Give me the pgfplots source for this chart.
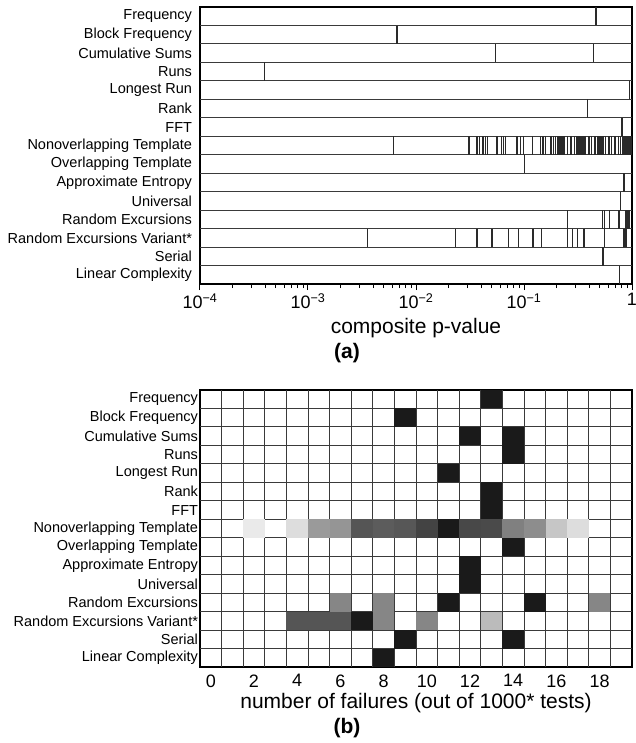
\documentclass[border=0pt]{standalone}
\usepackage{pgfplots}
\pgfplotsset{compat=1.18}
\usepackage{fontspec}
\setmainfont{Liberation Sans}
\pgfdeclareplotmark{cell}{\pgfpathrectangle{\pgfqpoint{-10.8pt}{-9.2333pt}}{\pgfqpoint{21.6pt}{18.4667pt}}\pgfusepathqfill}
\definecolor{gridc}{HTML}{3A3A3A}
\definecolor{linec}{HTML}{2A2A2A}
\begin{document}
\begin{tikzpicture}
\path[use as bounding box] (0pt,0pt) rectangle (635pt,-743pt);
\pgfplotsset{
  rowlabels/.style={
    ytick={1,...,15},
    yticklabels={Frequency,Block Frequency,Cumulative Sums,Runs,Longest Run,Rank,FFT,Nonoverlapping Template,Overlapping Template,Approximate Entropy,Universal,Random Excursions,Random Excursions Variant*,Serial,Linear Complexity},
    yticklabel style={font=\fontsize{14.5}{14.5}\selectfont, anchor=east, xshift=1.5pt},
    ytick style={draw=none},
    ymin=0.5, ymax=15.5, y dir=reverse,
    extra y ticks={1.5,2.5,...,14.5},
    extra y tick labels={},
    extra y tick style={grid=major, tick style={draw=none}},
    grid style={draw=gridc, line width=1pt},
    axis line style={line width=1.4pt, black},
  },
  pv/.style={only marks, mark=|, mark size=9.2pt, mark options={line width=1.1pt, draw=linec}},
}
% ---------------- panel (a)
\begin{axis}[
  at={(200pt,-7pt)}, anchor=north west,
  scale only axis, width=432pt, height=277pt,
  rowlabels,
  xmode=log, xmin=1e-4, xmax=1,
  xtick={1e-4,1e-3,1e-2,1e-1,1},
  xticklabels={10\textsuperscript{−4},10\textsuperscript{−3},10\textsuperscript{−2},10\textsuperscript{−1},1},
  xticklabel style={font=\fontsize{18}{18}\selectfont},
  xtick pos=bottom, tick align=outside,
  major tick length=6pt, minor tick length=4pt,
  xtick style={line width=1pt, black},
  clip=false,
]
\addplot[pv] coordinates {(0.4642,1)};
\addplot[pv] coordinates {(0.00667,2)};
\addplot[pv] coordinates {(0.0547,3) (0.4418,3)};
\addplot[pv] coordinates {(0.000397,4)};
\addplot[pv] coordinates {(0.955,5)};
\addplot[pv] coordinates {(0.3889,6)};
\addplot[pv] coordinates {(0.808,7)};
\addplot[pv] coordinates {
(0.00622,8) (0.03095,8) (0.03670,8) (0.03889,8) (0.04174,8) (0.04420,8) (0.04612,8)
(0.05623,8) (0.06216,8) (0.06486,8) (0.06770,8) (0.08614,8) (0.09242,8) (0.09936,8)
(0.1194,8) (0.1416,8) (0.1499,8) (0.1588,8) (0.1778,8) (0.1884,8) (0.1966,8)
(0.2064,8) (0.2110,8) (0.2154,8) (0.2200,8) (0.2248,8) (0.2296,8) (0.2346,8)
(0.2539,8) (0.2724,8) (0.2922,8) (0.3095,8) (0.3231,8) (0.3300,8) (0.3372,8) (0.3445,8)
(0.3518,8) (0.3593,8) (0.3670,8) (0.3997,8) (0.4234,8) (0.4544,8) (0.4813,8) (0.4917,8)
(0.5023,8) (0.5131,8) (0.5242,8) (0.5355,8) (0.5470,8) (0.5709,8) (0.6124,8) (0.6486,8)
(0.6961,8) (0.7464,8) (0.7793,8) (0.8131,8) (0.8345,8) (0.8522,8) (0.8660,8) (0.8799,8)
(0.8940,8) (0.9084,8) (0.9231,8) (0.9380,8) (0.9531,8) (0.9685,8) (0.9794,8) (0.9894,8)};
\addplot[pv] coordinates {(0.1006,9)};
\addplot[pv] coordinates {(0.843,10)};
\addplot[pv] coordinates {(0.7793,11)};
\addplot[pv] coordinates {(0.2539,12) (0.5355,12) (0.5606,12) (0.6165,12) (0.7577,12) (0.880,12) (0.895,12) (0.910,12) (0.925,12) (0.940,12)};
\addplot[pv] coordinates {
(0.00357,13) (0.0233,13) (0.0364,13) (0.0372,13) (0.0505,13) (0.0716,13) (0.0892,13)
(0.1194,13) (0.1222,13) (0.1447,13) (0.2539,13) (0.2822,13) (0.3140,13) (0.3594,13)
(0.5606,13) (0.8433,13) (0.865,13) (0.880,13)};
\addplot[pv] coordinates {(0.5387,14)};
\addplot[pv] coordinates {(0.7694,15)};
\end{axis}
\node[font=\fontsize{21}{21}\selectfont] at ([yshift=-44pt]current axis.south) {composite p-value};
\node[font=\bfseries\fontsize{21}{21}\selectfont] at ([xshift=147pt,yshift=-69pt]current axis.south west) {(a)};
% ---------------- panel (b)
\begin{axis}[
  at={(200pt,-390pt)}, anchor=north west,
  scale only axis, width=432pt, height=277pt,
  rowlabels,
  xmin=-0.5, xmax=19.5,
  xtick={0,2,...,18},
  xtick style={draw=none},
  extra x ticks={0.5,1.5,...,18.5},
  extra x tick labels={},
  extra x tick style={grid=major, tick style={draw=none}},
  xticklabel style={font=\fontsize{18}{18}\selectfont, yshift=-4pt},
  /pgf/number format/assume math mode=true,
  axis on top,
  colormap={bw}{gray(0cm)=(0); gray(1cm)=(1)},
  point meta min=0, point meta max=1,
]
\addplot[scatter, only marks, mark=cell, point meta=explicit,
  scatter/use mapped color={draw=none, fill=mapped color}]
  table[meta=g] {
x y g
13 1 0.10
9 2 0.10
12 3 0.10
14 3 0.10
14 4 0.10
11 5 0.10
13 6 0.10
13 7 0.10
2 8 0.91
4 8 0.86
5 8 0.60
6 8 0.58
7 8 0.33
8 8 0.36
9 8 0.34
10 8 0.26
11 8 0.10
12 8 0.28
13 8 0.29
14 8 0.50
15 8 0.55
16 8 0.77
17 8 0.86
14 9 0.10
12 10 0.10
12 11 0.10
6 12 0.52
8 12 0.52
11 12 0.10
15 12 0.10
18 12 0.52
4 13 0.33
5 13 0.33
6 13 0.33
7 13 0.10
8 13 0.52
10 13 0.52
13 13 0.73
9 14 0.10
14 14 0.10
8 15 0.10
};
\end{axis}
\node[font=\fontsize{21}{21}\selectfont] at ([yshift=-36pt]current axis.south) {number of failures (out of 1000* tests)};
\node[font=\bfseries\fontsize{21}{21}\selectfont] at ([xshift=147pt,yshift=-61pt]current axis.south west) {(b)};
\end{tikzpicture}
\end{document}
